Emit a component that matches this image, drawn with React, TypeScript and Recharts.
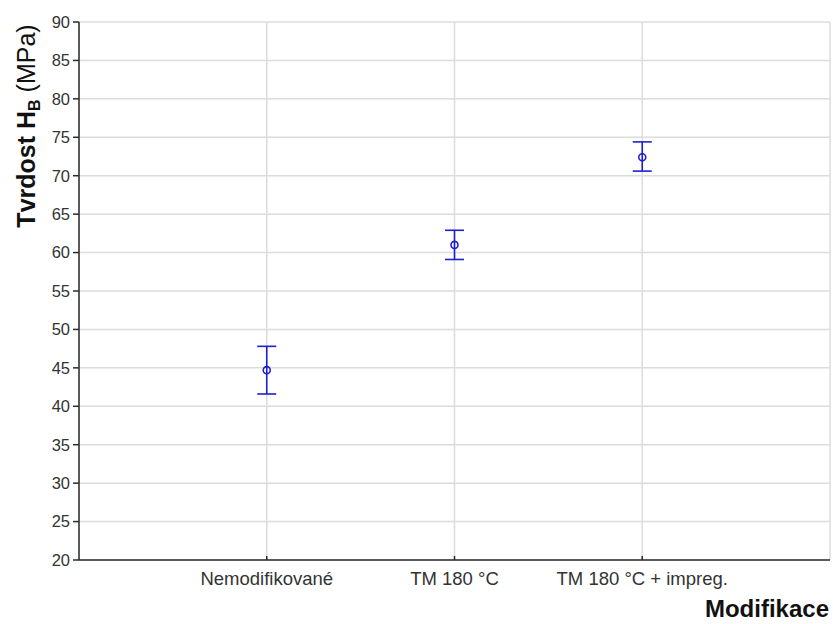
import {
  ScatterChart,
  Scatter,
  XAxis,
  YAxis,
  CartesianGrid,
  ErrorBar,
} from "recharts";

const categories = ["Nemodifikované", "TM 180 °C", "TM 180 °C + impreg."];
const means = [44.7, 61.0, 72.4];
const lower = [41.6, 59.1, 70.6];
const upper = [47.8, 62.9, 74.4];
const yTicks = [20, 25, 30, 35, 40, 45, 50, 55, 60, 65, 70, 75, 80, 85, 90];

const data = categories.map((name, i) => ({
  x: i + 1,
  name,
  mean: means[i],
  err: [means[i] - lower[i], upper[i] - means[i]],
}));

const BLUE = "#1f1fcf";
const AXIS = "#2b2b2b";
const FONT = "Liberation Sans, Arial, sans-serif";

const Marker = (props: any) => {
  const { cx, cy } = props;
  return <circle cx={cx} cy={cy} r={3.5} fill="none" stroke={BLUE} strokeWidth={1.6} />;
};

const YLabel = () => (
  <text
    transform="translate(35, 126) rotate(-90)"
    textAnchor="middle"
    fontFamily={FONT}
    fontSize={25}
    fill="#111"
  >
    <tspan fontWeight="bold">Tvrdost H</tspan>
    <tspan fontWeight="bold" fontSize={16} dy={5}>B</tspan>
    <tspan dy={-5}> (MPa)</tspan>
  </text>
);

const XLabel = () => (
  <text
    x={829}
    y={617}
    textAnchor="end"
    fontFamily={FONT}
    fontSize={24}
    fontWeight="bold"
    fill="#111"
  >
    Modifikace
  </text>
);

export default function App() {
  return (
    <div style={{ position: "absolute", left: 0, top: 0, background: "#fff" }}>
      <ScatterChart
        width={833}
        height={624}
        margin={{ top: 22, right: 3, bottom: 0, left: 35 }}
      >
        <CartesianGrid stroke="#dcdcdc" strokeWidth={1.5} />
        <XAxis
          type="number"
          dataKey="x"
          domain={[0, 4]}
          ticks={[1, 2, 3]}
          tickFormatter={(v: number) => categories[v - 1] ?? ""}
          height={64}
          stroke={AXIS}
          strokeWidth={1.5}
          tickSize={-4}
          tickMargin={16}
          tick={{ fill: "#333", fontSize: 18.5, fontFamily: FONT }}
          label={<XLabel />}
        />
        <XAxis
          xAxisId="top"
          orientation="top"
          type="number"
          domain={[0, 4]}
          height={0}
          stroke={AXIS}
          strokeWidth={1.5}
          tick={false}
          tickLine={false}
        />
        <YAxis
          type="number"
          domain={[20, 90]}
          ticks={yTicks}
          width={44}
          stroke={AXIS}
          strokeWidth={1.5}
          tickSize={6}
          tickMargin={3}
          interval={0}
          tick={{ fill: "#333", fontSize: 16.5, fontFamily: FONT }}
          label={<YLabel />}
        />
        <YAxis
          yAxisId="right"
          orientation="right"
          type="number"
          domain={[20, 90]}
          ticks={yTicks}
          width={0}
          mirror
          stroke={AXIS}
          strokeWidth={1.5}
          tickSize={5}
          interval={0}
          tickFormatter={() => ""}
        />
        <Scatter
          data={data}
          dataKey="mean"
          shape={<Marker />}
          isAnimationActive={false}
        >
          <ErrorBar
            dataKey="err"
            direction="y"
            width={9.5}
            stroke={BLUE}
            strokeWidth={1.6}
            isAnimationActive={false}
          />
        </Scatter>
      </ScatterChart>
    </div>
  );
}
